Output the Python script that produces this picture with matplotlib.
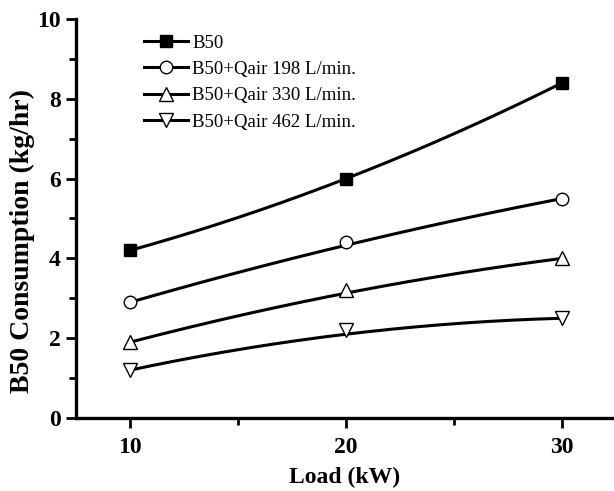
import matplotlib
matplotlib.use("Agg")
import matplotlib.pyplot as plt
import numpy as np
from matplotlib.ticker import MultipleLocator

plt.rcParams['font.family'] = ['Liberation Serif', 'DejaVu Serif']

load = [10, 20, 30]
labels = ["B50", "B50+Qair 198 L/min.", "B50+Qair 330 L/min.", "B50+Qair 462 L/min."]
b50 = [4.2, 6.0, 8.4]
q198 = [2.9, 4.4, 5.5]
q330 = [1.9, 3.2, 4.0]
q462 = [1.2, 2.2, 2.5]
# smooth connecting curve levels
b50_line = [4.2, 6.0, 8.4]
q198_line = [2.9, 4.33, 5.5]
q330_line = [1.9, 3.13, 4.0]
q462_line = [1.2, 2.1, 2.5]

series = [b50, q198, q330, q462]
lines = [b50_line, q198_line, q330_line, q462_line]
markers = ['s', 'o', '^', 'v']
msizes = [8, 9, 10, 10]
fills = ['black', 'white', 'white', 'white']

fig = plt.figure(figsize=(6.14, 4.91), dpi=100)
ax = fig.add_axes([76/614, 1-418/491, 1-76/614, (418-19)/491])

xs = np.linspace(load[0], load[-1], 200)
handles = []
for vals, lv, m, ms, fc, lab in zip(series, lines, markers, msizes, fills, labels):
    coef = np.polyfit(load, lv, 2)
    ax.plot(xs, np.polyval(coef, xs), color='black', lw=2.2, zorder=2)
    ax.plot(load, vals, linestyle='none', marker=m, markersize=ms,
            markerfacecolor=fc, markeredgecolor='black', markeredgewidth=1.0, zorder=3)
    h, = ax.plot([], [], color='black', lw=2.2, marker=m, markersize=ms,
                 markerfacecolor=fc, markeredgecolor='black', markeredgewidth=1.0, label=lab)
    handles.append(h)

ax.set_xlim(7.5, 32.4)
ax.set_ylim(0, 10)
ax.xaxis.set_major_locator(MultipleLocator(10))
ax.xaxis.set_minor_locator(MultipleLocator(5))
ax.yaxis.set_major_locator(MultipleLocator(2))
ax.yaxis.set_minor_locator(MultipleLocator(1))
ax.spines['top'].set_visible(False)
ax.spines['right'].set_visible(False)
for s in ['left', 'bottom']:
    ax.spines[s].set_linewidth(2.4)
ax.tick_params(which='major', direction='out', length=7, width=2, labelsize=17, pad=4)
ax.tick_params(axis='x', which='major', pad=7)
ax.tick_params(which='minor', direction='out', length=5, width=2)
for t in ax.get_xticklabels() + ax.get_yticklabels():
    t.set_fontweight('bold')

ax.set_xlabel("Load (kW)", fontsize=17, fontweight='bold')
ax.xaxis.set_label_coords(0.5, (418-477)/399, transform=ax.transAxes)
ax.xaxis.label.set_va('center')
ax.set_ylabel("B50 Consumption (kg/hr)", fontsize=20, fontweight='bold')
ax.yaxis.set_label_coords((22-76)/538, (418-241)/399, transform=ax.transAxes)
ax.yaxis.label.set_va('center')

leg = ax.legend(handles=handles, loc='upper left', bbox_to_anchor=(0.113, 0.98),
                frameon=False, fontsize=13.5, handlelength=2.35, handletextpad=0.2,
                labelspacing=0.49, borderaxespad=0)

fig.savefig("out.png", dpi=100)
